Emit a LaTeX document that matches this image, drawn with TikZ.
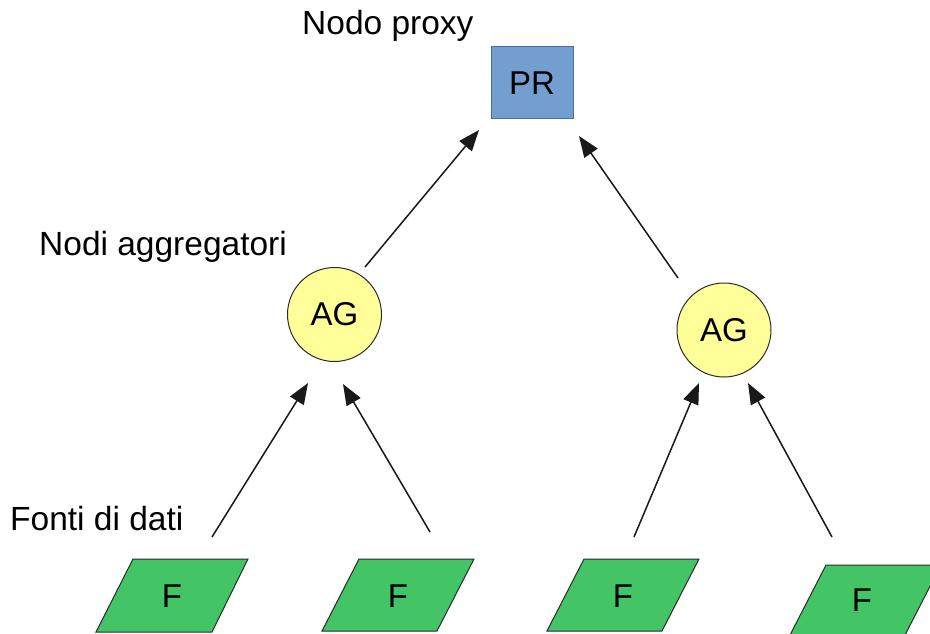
\documentclass[tikz,border=0pt]{standalone}
\usepackage{fontspec}
\setmainfont{Liberation Sans}
\usetikzlibrary{arrows.meta}
\definecolor{prblue}{HTML}{729FCF}
\definecolor{prborder}{HTML}{4A6E9C}
\definecolor{agyellow}{HTML}{FFFF99}
\definecolor{fgreen}{HTML}{43C465}
\definecolor{edge}{HTML}{2A2A2A}
\begin{document}
\begin{tikzpicture}[x=1pt,y=-1pt,
  lbl/.style={font=\fontsize{33.5}{40}\selectfont, inner sep=0pt, anchor=base west},
  nodetext/.style={font=\fontsize{33}{38}\selectfont, inner sep=0pt, text=black},
  prbox/.style={rectangle, draw=prborder, fill=prblue, line width=1pt, minimum width=82pt, minimum height=72pt, inner sep=0pt, font=\fontsize{33}{38}\selectfont},
  agcirc/.style={circle, draw=edge, fill=agyellow, line width=1pt, minimum size=94pt, inner sep=0pt, font=\fontsize{33}{38}\selectfont},
  fshape/.style={draw=edge, fill=fgreen, line width=1pt, line join=miter},
  arr/.style={-{Triangle[length=21pt,width=16pt]}, line width=1.5pt, draw=black!90, fill=black}]
\useasboundingbox (0,0) rectangle (930,634);
\clip (0,0) rectangle (930,634);

% labels
\node[lbl] (lproxy) at (302,35) {Nodo proxy};
\node[lbl] (lagg) at (39,255) {Nodi aggregatori};
\node[lbl] (lfonti) at (10,530) {Fonti di dati};

% proxy
\node[prbox] (pr) at (532,83) {PR};

% aggregators
\node[agcirc] (ag1) at (334.5,314.5) {AG};
\node[agcirc] (ag2) at (724,330) {AG};

% sources
\draw[fshape] (133,559) -- (248,559) -- (212,632) -- (96,632) -- cycle;
\node[nodetext] (f1) at (172,596) {F};
\draw[fshape] (359,559) -- (474,559) -- (437,631) -- (322,631) -- cycle;
\node[nodetext] (f2) at (398,596) {F};
\draw[fshape] (584,559) -- (699,559) -- (662,631) -- (547,631) -- cycle;
\node[nodetext] (f3) at (623,596) {F};
\draw[fshape] (826,565) -- (941,565) -- (904,637) -- (789,637) -- cycle;
\node[nodetext] (f4) at (862,600) {F};

% connector end points
\coordinate (s1) at (212,537); \coordinate (t1) at (308,383);
\coordinate (s2) at (430,532); \coordinate (t2) at (343,384);
\coordinate (s3) at (634,537); \coordinate (t3) at (699,383);
\coordinate (s4) at (832,537); \coordinate (t4) at (748,383);
\coordinate (s5) at (365,267); \coordinate (t5) at (479,130);
\coordinate (s6) at (678,278); \coordinate (t6) at (579,136);

\draw[arr] (s1) -- (t1);
\draw[arr] (s2) -- (t2);
\draw[arr] (s3) -- (t3);
\draw[arr] (s4) -- (t4);
\draw[arr] (s5) -- (t5);
\draw[arr] (s6) -- (t6);
\end{tikzpicture}
\end{document}
